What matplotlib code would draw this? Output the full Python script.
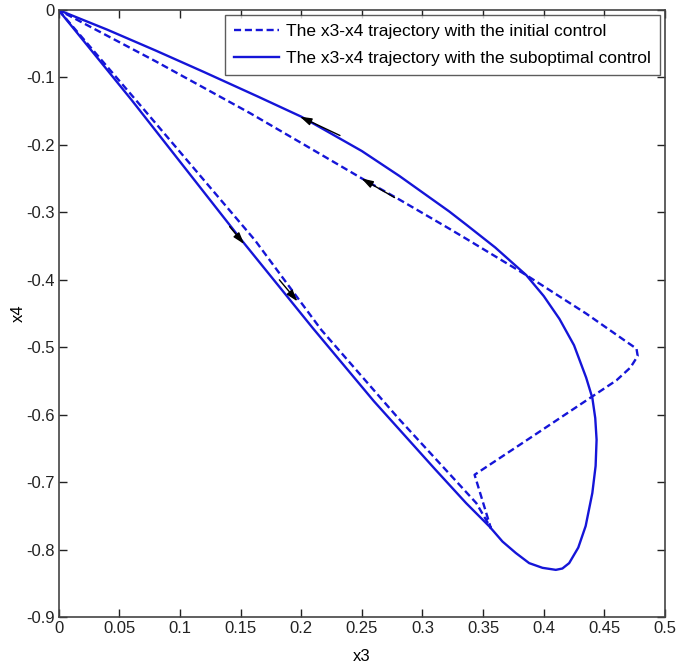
import matplotlib
matplotlib.use("Agg")
import matplotlib.pyplot as plt

plt.rcParams['font.family'] = ['Liberation Sans', 'DejaVu Sans']
plt.rcParams['axes.unicode_minus'] = False

# Trajectory with the suboptimal control (solid)
sub_x3 = [0, 0.0602, 0.1508, 0.2098, 0.26, 0.31, 0.336, 0.3554, 0.366, 0.377,
          0.388, 0.399, 0.41, 0.4154, 0.421, 0.4285, 0.4346, 0.4401, 0.4428,
          0.4436, 0.4425, 0.4401, 0.435, 0.425, 0.413, 0.40, 0.3856, 0.36,
          0.336, 0.322, 0.281, 0.25, 0.2, 0.164, 0.12, 0.08, 0.04, 0]
sub_x4 = [0, -0.1334, -0.341, -0.472, -0.58, -0.68, -0.731, -0.766, -0.788,
          -0.805, -0.82, -0.827, -0.830, -0.828, -0.82, -0.797, -0.765, -0.716,
          -0.676, -0.637, -0.605, -0.575, -0.545, -0.497, -0.458, -0.424,
          -0.393, -0.352, -0.318, -0.2985, -0.246, -0.209, -0.158, -0.128,
          -0.092, -0.06, -0.029, 0]

# Trajectory with the initial control (dashed)
ini_x3 = [0, 0.0684, 0.1618, 0.2167, 0.28, 0.3444, 0.3564, 0.343, 0.39, 0.44,
          0.46, 0.4715, 0.4775, 0.4765, 0.47, 0.435, 0.3856, 0.336, 0.322,
          0.281, 0.25, 0.2, 0.158, 0.08, 0]
ini_x4 = [0, -0.1433, -0.341, -0.4744, -0.605, -0.731, -0.768, -0.689, -0.633,
          -0.573, -0.549, -0.53, -0.513, -0.502, -0.494, -0.45, -0.393, -0.339,
          -0.324, -0.281, -0.2496, -0.197, -0.153, -0.076, 0]

# Direction arrows (tail -> tip)
arrow_tail_x3 = [0.232, 0.277, 0.141, 0.182]
arrow_tail_x4 = [-0.186, -0.278, -0.321, -0.40]
arrow_tip_x3 = [0.199, 0.2497, 0.153, 0.197]
arrow_tip_x4 = [-0.158, -0.2496, -0.347, -0.432]

labels = ['The x3-x4 trajectory with the initial control',
          'The x3-x4 trajectory with the suboptimal control']
xticks = [0, 0.05, 0.1, 0.15, 0.2, 0.25, 0.3, 0.35, 0.4, 0.45, 0.5]
xticklabels = ['0', '0.05', '0.1', '0.15', '0.2', '0.25', '0.3', '0.35', '0.4', '0.45', '0.5']
yticks = [0, -0.1, -0.2, -0.3, -0.4, -0.5, -0.6, -0.7, -0.8, -0.9]
yticklabels = ['0', '-0.1', '-0.2', '-0.3', '-0.4', '-0.5', '-0.6', '-0.7', '-0.8', '-0.9']

blue = '#1515d8'
fig = plt.figure(figsize=(6.76, 6.70), dpi=100)
ax = fig.add_axes([0.0867, 0.079, 0.897, 0.906])

ax.plot(ini_x3, ini_x4, color=blue, lw=1.7, linestyle=(0, (3.0, 1.6)), label=labels[0])
ax.plot(sub_x3, sub_x4, color=blue, lw=1.7, linestyle='-', label=labels[1])

for tx, ty, hx, hy in zip(arrow_tail_x3, arrow_tail_x4, arrow_tip_x3, arrow_tip_x4):
    ax.annotate('', xy=(hx, hy), xytext=(tx, ty),
                arrowprops=dict(arrowstyle='-|>,head_length=0.7,head_width=0.22',
                                color='black', lw=1.0, shrinkA=0, shrinkB=0))

ax.set_xlim(0, 0.5)
ax.set_ylim(-0.9, 0)
ax.set_xticks(xticks)
ax.set_xticklabels(xticklabels)
ax.set_yticks(yticks)
ax.set_yticklabels(yticklabels)
ax.tick_params(direction='in', length=6, width=1, top=True, right=True,
               labelsize=12, colors='#222222', pad=3)
for s in ax.spines.values():
    s.set_color('#444444')
    s.set_linewidth(1.2)
ax.set_xlabel('x3', fontsize=12, labelpad=9)
ax.set_ylabel('x4', fontsize=12, labelpad=0)

leg = ax.legend(loc='upper right', fontsize=12.5, frameon=True, fancybox=False,
                edgecolor='#333333', borderaxespad=0.3, handlelength=2.6,
                handletextpad=0.4, borderpad=0.5, labelspacing=0.7)
leg.get_frame().set_linewidth(1.0)

fig.savefig('out.png', dpi=100, facecolor='white')
